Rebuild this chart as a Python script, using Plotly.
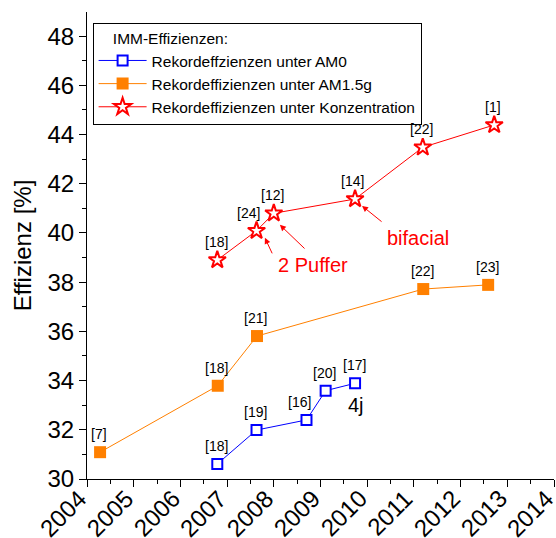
import plotly.graph_objects as go

# ---- data ----
years_am0 = [2006.79, 2007.63, 2008.70, 2009.11, 2009.74]
eff_am0 = [30.61, 31.99, 32.40, 33.59, 33.89]
refs_am0 = ["[18]", "[19]", "[16]", "[20]", "[17]"]

years_am15 = [2004.28, 2006.80, 2007.64, 2011.20, 2012.59]
eff_am15 = [31.09, 33.79, 35.81, 37.72, 37.89]
refs_am15 = ["[7]", "[18]", "[21]", "[22]", "[23]"]

years_konz = [2006.79, 2007.63, 2008.00, 2009.74, 2011.19, 2012.72]
eff_konz = [38.90, 40.09, 40.80, 41.38, 43.48, 44.39]
refs_konz = ["[18]", "[24]", "[12]", "[14]", "[22]", "[1]"]

x_ticks = list(range(2004, 2015))
x_tick_labels = [str(v) for v in x_ticks]
y_ticks = list(range(30, 50, 2))
y_tick_labels = [str(v) for v in y_ticks]

FONT = "Liberation Sans, Arial, sans-serif"
BLUE = "#0000FF"
ORANGE = "#FF8000"
RED = "#FF0000"

fig = go.Figure()
fig.add_trace(go.Scatter(
    x=years_am0, y=eff_am0, mode="lines+markers",
    name="Rekordeffzienzen unter AM0",
    line=dict(color=BLUE, width=1),
    marker=dict(symbol="square", size=10, color="white", line=dict(color=BLUE, width=2)),
))
fig.add_trace(go.Scatter(
    x=years_am15, y=eff_am15, mode="lines+markers",
    name="Rekordeffizienzen unter AM1.5g",
    line=dict(color=ORANGE, width=1),
    marker=dict(symbol="square", size=12, color=ORANGE, line=dict(color=ORANGE, width=0)),
))
fig.add_trace(go.Scatter(
    x=years_konz, y=eff_konz, mode="lines+markers",
    name="Rekordeffizienzen unter Konzentration",
    line=dict(color=RED, width=1),
    marker=dict(symbol="star", size=13, color="white", line=dict(color=RED, width=2)),
))

annotations = []
special_shift = {("am0", 2): -7, ("konz", 1): -8, ("konz", 3): -3}
for key, xs, ys, refs in [("am0", years_am0, eff_am0, refs_am0),
                          ("am15", years_am15, eff_am15, refs_am15),
                          ("konz", years_konz, eff_konz, refs_konz)]:
    for i, (xv, yv, r) in enumerate(zip(xs, ys, refs)):
        annotations.append(dict(
            x=xv, y=yv, text=r, showarrow=False, xref="x", yref="y",
            yshift=18, xshift=special_shift.get((key, i), -1),
            font=dict(family=FONT, size=14, color="black"),
        ))

annotations += [
    dict(x=2009.76, y=33.01, text="4j", showarrow=False,
         font=dict(family=FONT, size=20, color="black")),
    dict(x=2008.84, y=38.70, text="2 Puffer", showarrow=False,
         font=dict(family=FONT, size=20, color=RED)),
    dict(x=2011.09, y=39.80, text="bifacial", showarrow=False,
         font=dict(family=FONT, size=20, color=RED)),
]
for hx, hy, tx, ty in [(2007.81, 39.80, 2007.98, 39.11),
                       (2008.13, 40.33, 2008.69, 39.31),
                       (2009.89, 41.10, 2010.34, 40.41)]:
    annotations.append(dict(
        x=hx, y=hy, ax=tx, ay=ty, axref="x", ayref="y", text="",
        showarrow=True, arrowhead=2, arrowsize=1.2, arrowwidth=1,
        arrowcolor=RED, standoff=0, startstandoff=0,
    ))

# rotated x tick labels (ending at their tick)
for xv, lab in zip(x_ticks, x_tick_labels):
    annotations.append(dict(
        x=xv, y=0, xref="x", yref="paper", text=lab, showarrow=False,
        textangle=-45, xanchor="right", yanchor="top", xshift=7, yshift=-3,
        font=dict(family=FONT, size=24, color="black"),
    ))

tickfont = dict(family=FONT, size=24, color="black")
fig.update_layout(
    width=556, height=538,
    margin=dict(l=87, r=2, t=12, b=59, autoexpand=False),
    paper_bgcolor="white", plot_bgcolor="white",
    font=dict(family=FONT, color="black"),
    showlegend=True,
    legend=dict(
        x=0.012, y=0.977, xanchor="left", yanchor="top",
        bordercolor="black", borderwidth=1, bgcolor="white",
        font=dict(family=FONT, size=15.5, color="black"),
        title=dict(text="&nbsp;&nbsp;&nbsp;&nbsp;IMM-Effizienzen:",
                   font=dict(family=FONT, size=15.5, color="black"), side="top"),
        itemwidth=48, tracegroupgap=0,
    ),
    annotations=annotations,
    xaxis=dict(
        range=[2004, 2014], tickvals=x_ticks, showticklabels=False,
        showline=True, linecolor="black", linewidth=1,
        ticks="outside", ticklen=7, tickcolor="black", tickwidth=1,
        minor=dict(ticks="outside", ticklen=4, dtick=0.5, tickcolor="black"),
        showgrid=False, zeroline=False,
    ),
    yaxis=dict(
        range=[30, 48.98], tickvals=y_ticks, ticktext=y_tick_labels,
        tickfont=tickfont,
        title=dict(text="Effizienz [%]", font=dict(family=FONT, size=24, color="black"), standoff=9),
        showline=True, linecolor="black", linewidth=1,
        ticks="outside", ticklen=7, tickcolor="black", tickwidth=1,
        minor=dict(ticks="outside", ticklen=4, dtick=1, tickcolor="black"),
        showgrid=False, zeroline=False,
    ),
    xaxis2=dict(
        overlaying="x", side="top", anchor="y", range=[2004, 2014], tickvals=x_ticks,
        showticklabels=False, showline=True, linecolor="black", linewidth=1,
        ticks="inside", ticklen=7, tickcolor="black",
        minor=dict(ticks="inside", ticklen=4, dtick=0.5, tickcolor="black"),
        showgrid=False, zeroline=False,
    ),
    yaxis2=dict(
        overlaying="y", side="right", anchor="x", range=[30, 48.98], tickvals=y_ticks,
        showticklabels=False, showline=True, linecolor="black", linewidth=1,
        ticks="inside", ticklen=7, tickcolor="black",
        minor=dict(ticks="inside", ticklen=4, dtick=1, tickcolor="black"),
        showgrid=False, zeroline=False,
    ),
)

fig.write_html("out.html")
